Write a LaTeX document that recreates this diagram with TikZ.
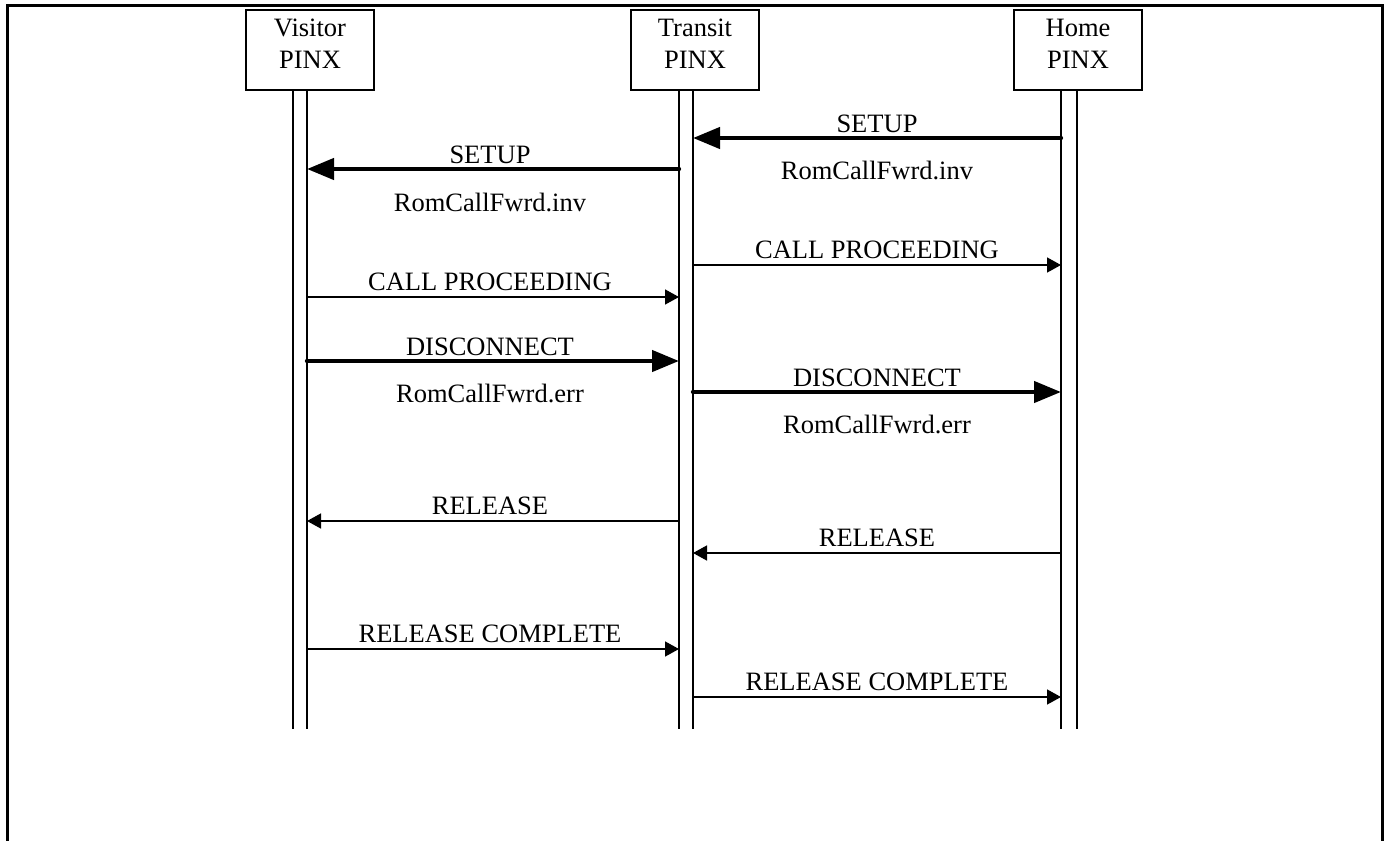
\documentclass[tikz,border=0pt]{standalone}
\usepackage{fontspec}
\setmainfont{Liberation Serif}
\usetikzlibrary{arrows.meta}
\tikzset{
  frame/.style={line width=1.5pt},
  pbox/.style={draw, line width=0.85pt, rectangle, minimum width=64pt, minimum height=40pt, inner sep=0pt},
  lbl/.style={inner sep=0pt, anchor=base, font=\fontsize{13.25pt}{16pt}\selectfont},
  life/.style={line width=0.75pt},
  thinmsg/.style={line width=0.75pt, -{Triangle[length=7pt,width=7.5pt]}},
  thickmsg/.style={line width=2.2pt, line cap=round, -{Triangle[length=13.5pt,width=10.5pt]}}
}
\begin{document}
\begin{tikzpicture}[x=0.5pt, y=-0.5pt]
\useasboundingbox (0,0) rectangle (1388,841);
% frame (open at the bottom)
\coordinate (fbl) at (7,841);
\coordinate (ftl) at (7,5);
\coordinate (ftr) at (1382,5);
\coordinate (fbr) at (1382,841);
\draw[frame] (fbl) -- (ftl) -- (ftr) -- (fbr);
% entity boxes
\node[pbox] (V) at (310,50) {};
\node[pbox] (T) at (695,50) {};
\node[pbox] (H) at (1078,50) {};
\node[lbl] (Vl1) at (310,36) {Visitor};
\node[lbl] (Vl2) at (310,68) {PINX};
\node[lbl] (Tl1) at (695,36) {Transit};
\node[lbl] (Tl2) at (695,68) {PINX};
\node[lbl] (Hl1) at (1078,36) {Home};
\node[lbl] (Hl2) at (1078,68) {PINX};
% lifelines
\foreach \n/\x in {Va/293, Vb/307, Ta/679, Tb/693, Ha/1061, Hb/1077}{
  \coordinate (\n top) at (\x,90);
  \coordinate (\n bot) at (\x,729);
  \draw[life] (\n top) -- (\n bot);
}
% messages: SETUP Home -> Transit
\coordinate (s1a) at (1061,138); \coordinate (s1b) at (693,138);
\draw[thickmsg] (s1a) -- (s1b);
\node[lbl] (s1l) at (877,132) {SETUP};
\node[lbl] (s1i) at (877,179) {RomCallFwrd.inv};
% SETUP Transit -> Visitor
\coordinate (s2a) at (679,169); \coordinate (s2b) at (307,169);
\draw[thickmsg] (s2a) -- (s2b);
\node[lbl] (s2l) at (490,163) {SETUP};
\node[lbl] (s2i) at (490,211) {RomCallFwrd.inv};
% CALL PROCEEDING Transit -> Home
\coordinate (c1a) at (693,265); \coordinate (c1b) at (1061,265);
\draw[thinmsg] (c1a) -- (c1b);
\node[lbl] (c1l) at (877,258) {CALL PROCEEDING};
% CALL PROCEEDING Visitor -> Transit
\coordinate (c2a) at (307,297); \coordinate (c2b) at (679,297);
\draw[thinmsg] (c2a) -- (c2b);
\node[lbl] (c2l) at (490,290) {CALL PROCEEDING};
% DISCONNECT Visitor -> Transit
\coordinate (d1a) at (307,361); \coordinate (d1b) at (679,361);
\draw[thickmsg] (d1a) -- (d1b);
\node[lbl] (d1l) at (490,355) {DISCONNECT};
\node[lbl] (d1e) at (490,402) {RomCallFwrd.err};
% DISCONNECT Transit -> Home
\coordinate (d2a) at (693,392); \coordinate (d2b) at (1061,392);
\draw[thickmsg] (d2a) -- (d2b);
\node[lbl] (d2l) at (877,386) {DISCONNECT};
\node[lbl] (d2e) at (877,433) {RomCallFwrd.err};
% RELEASE Transit -> Visitor
\coordinate (r1a) at (679,521); \coordinate (r1b) at (307,521);
\draw[thinmsg] (r1a) -- (r1b);
\node[lbl] (r1l) at (490,514) {RELEASE};
% RELEASE Home -> Transit
\coordinate (r2a) at (1061,553); \coordinate (r2b) at (693,553);
\draw[thinmsg] (r2a) -- (r2b);
\node[lbl] (r2l) at (877,546) {RELEASE};
% RELEASE COMPLETE Visitor -> Transit
\coordinate (rc1a) at (307,649); \coordinate (rc1b) at (679,649);
\draw[thinmsg] (rc1a) -- (rc1b);
\node[lbl] (rc1l) at (490,642) {RELEASE COMPLETE};
% RELEASE COMPLETE Transit -> Home
\coordinate (rc2a) at (693,697); \coordinate (rc2b) at (1061,697);
\draw[thinmsg] (rc2a) -- (rc2b);
\node[lbl] (rc2l) at (877,690) {RELEASE COMPLETE};
\end{tikzpicture}
\end{document}
